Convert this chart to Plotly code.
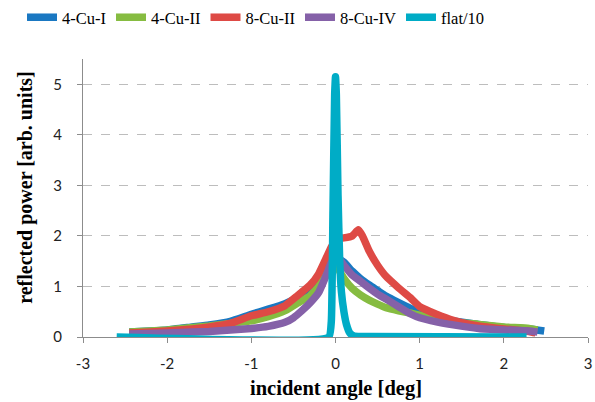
import plotly.graph_objects as go

# ---- data ----
x_4cu_i = [-2.45, -2.2, -2.0, -1.7, -1.5, -1.25, -1.0, -0.8, -0.6, -0.45, -0.3, -0.2, -0.1, -0.05, 0.0,
           0.05, 0.1, 0.2, 0.3, 0.4, 0.5, 0.6, 0.75, 0.9, 1.0, 1.2, 1.4, 1.7, 2.0, 2.3, 2.48]
y_4cu_i = [0.10, 0.12, 0.14, 0.20, 0.24, 0.31, 0.45, 0.55, 0.66, 0.78, 0.95, 1.10, 1.35, 1.50, 1.55,
           1.53, 1.48, 1.30, 1.15, 1.03, 0.92, 0.81, 0.68, 0.56, 0.51, 0.39, 0.32, 0.25, 0.19, 0.16, 0.12]

x_4cu_ii = [-2.45, -2.2, -2.0, -1.7, -1.5, -1.25, -1.0, -0.8, -0.6, -0.45, -0.3, -0.2, -0.1, -0.05, 0.0,
            0.05, 0.1, 0.2, 0.3, 0.4, 0.5, 0.6, 0.75, 0.9, 1.0, 1.2, 1.4, 1.7, 2.0, 2.3, 2.4]
y_4cu_ii = [0.10, 0.12, 0.14, 0.19, 0.22, 0.27, 0.32, 0.40, 0.52, 0.67, 0.82, 1.00, 1.35, 1.42, 1.45,
            1.30, 1.16, 0.96, 0.83, 0.73, 0.65, 0.58, 0.52, 0.47, 0.43, 0.36, 0.30, 0.25, 0.20, 0.17, 0.14]

x_8cu_ii = [-2.45, -2.2, -2.0, -1.7, -1.5, -1.25, -1.0, -0.8, -0.6, -0.45, -0.3, -0.2, -0.1, -0.05, 0.0,
            0.05, 0.1, 0.2, 0.27, 0.32, 0.4, 0.5, 0.6, 0.75, 0.9, 1.0, 1.2, 1.4, 1.7, 2.0, 2.3, 2.38]
y_8cu_ii = [0.08, 0.10, 0.12, 0.16, 0.20, 0.27, 0.42, 0.50, 0.62, 0.82, 1.03, 1.25, 1.60, 1.78, 1.90,
            1.95, 1.96, 2.00, 2.12, 2.00, 1.70, 1.42, 1.20, 0.97, 0.76, 0.60, 0.45, 0.33, 0.22, 0.16, 0.11, 0.08]

x_8cu_iv = [-2.45, -2.2, -2.0, -1.7, -1.5, -1.25, -1.0, -0.8, -0.6, -0.5, -0.4, -0.3, -0.2, -0.1, -0.05, 0.0,
            0.05, 0.1, 0.2, 0.3, 0.4, 0.5, 0.6, 0.75, 0.9, 1.0, 1.2, 1.4, 1.7, 2.0, 2.3, 2.4]
y_8cu_iv = [0.06, 0.07, 0.08, 0.10, 0.11, 0.14, 0.17, 0.21, 0.29, 0.38, 0.52, 0.68, 0.88, 1.26, 1.47, 1.55,
            1.53, 1.42, 1.22, 1.10, 0.97, 0.85, 0.75, 0.60, 0.45, 0.38, 0.30, 0.24, 0.17, 0.14, 0.12, 0.10]

x_flat = [-2.6, -0.08, -0.05, -0.03, -0.01, 0.0, 0.01, 0.03, 0.05, 0.07, 0.1, 0.13, 0.17, 0.22, 0.4, 2.27]
y_flat = [0.0, 0.0, 0.3, 2.5, 4.8, 5.15, 4.8, 2.8, 1.5, 0.9, 0.5, 0.25, 0.08, 0.02, 0.01, 0.0]

series_names = ["4-Cu-I", "4-Cu-II", "8-Cu-II", "8-Cu-IV", "flat/10"]
series_colors = ["#1A78C2", "#86BC41", "#DE4A45", "#8561A8", "#00ACC6"]

x_ticks = [-3, -2, -1, 0, 1, 2, 3]
y_ticks = [0, 1, 2, 3, 4, 5]

xs = [x_4cu_i, x_4cu_ii, x_8cu_ii, x_8cu_iv, x_flat]
ys = [y_4cu_i, y_4cu_ii, y_8cu_ii, y_8cu_iv, y_flat]

fig = go.Figure()
for name, color, xv, yv in zip(series_names, series_colors, xs, ys):
    fig.add_trace(go.Scatter(x=xv, y=yv, mode="lines", name=name,
                             line=dict(color=color, width=7.5, shape="spline", smoothing=0.4)))

serif = "Liberation Serif, Times New Roman, serif"
sans = "Lato, Carlito, Calibri, sans-serif"

fig.update_layout(
    width=595, height=402,
    margin=dict(l=83, r=7, t=59, b=65, autoexpand=False),
    paper_bgcolor="white", plot_bgcolor="white",
    showlegend=True,
    legend=dict(orientation="h", x=0.037, xref="container", xanchor="left",
                y=1.0, yref="container", yanchor="top",
                font=dict(family=serif, size=16.5, color="black"),
                itemwidth=30, tracegroupgap=0, traceorder="normal",
                bgcolor="rgba(0,0,0,0)"),
    xaxis=dict(range=[-3, 3], tickvals=x_ticks, ticktext=[str(v) for v in x_ticks],
               automargin=False,
               showgrid=False, zeroline=False, showline=True, linecolor="#8C8C8C", linewidth=1.3,
               ticks="outside", ticklen=5, tickcolor="#8C8C8C", tickwidth=1.3,
               tickfont=dict(family=sans, size=15, color="#222"), ticklabelstandoff=8),
    yaxis=dict(range=[0, 5.5], tickvals=y_ticks, ticktext=[str(v) for v in y_ticks],
               automargin=False,
               showgrid=True, gridcolor="#BDBDBD", griddash="dash", gridwidth=1.2,
               zeroline=False, showline=True, linecolor="#8C8C8C", linewidth=1.3,
               ticks="outside", ticklen=5, tickcolor="#8C8C8C", tickwidth=1.3,
               tickfont=dict(family=sans, size=15, color="#222"), ticklabelstandoff=12),
    annotations=[
        dict(text="<b>incident angle [deg]</b>", xref="paper", yref="paper", x=0.5, y=-0.186,
             xanchor="center", yanchor="middle", showarrow=False,
             font=dict(family=serif, size=20.5, color="black")),
        dict(text="<b>reflected power [arb. units]</b>", xref="paper", yref="paper",
             x=-0.113, y=0.54, xanchor="center", yanchor="middle", textangle=-90, showarrow=False,
             font=dict(family=serif, size=20, color="black")),
    ],
)

fig.write_html("out.html")
